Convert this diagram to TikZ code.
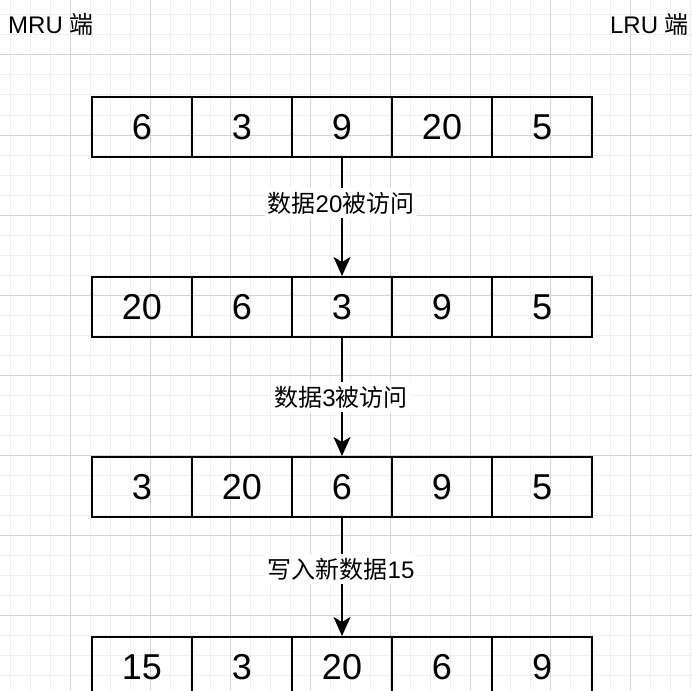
\documentclass[tikz,border=0pt]{standalone}
\usepackage{fontspec}
\setmainfont{Liberation Sans}
\newfontfamily\cjk{Noto Sans CJK SC}
\usetikzlibrary{arrows.meta}
\definecolor{gridminor}{HTML}{F0F0F0}
\definecolor{gridmajor}{HTML}{D4D4D4}
\tikzset{
  cell/.style={draw=black, line width=2pt, minimum width=100pt, minimum height=60pt,
    inner sep=0pt, anchor=north west, font=\fontsize{36}{40}\selectfont},
  flow/.style={draw=black, line width=2pt, -{Stealth[length=19pt,width=17pt,inset=5pt]}},
  lbl/.style={fill=white, inner xsep=3pt, inner ysep=0pt, minimum height=30pt,
    font=\fontsize{24}{28}\selectfont},
  endlbl/.style={inner sep=0pt, font=\fontsize{24}{28}\selectfont},
}
\begin{document}
\begin{tikzpicture}[x=1pt,y=-1pt]
\useasboundingbox (0,0) rectangle (692,690);
\fill[white] (0,0) rectangle (692,690);
% grid
\foreach \gx in {10,30,...,690} \draw[gridminor, line width=1pt] (\gx,0) -- (\gx,690);
\foreach \gy in {15,35,...,690} \draw[gridminor, line width=1pt] (0,\gy) -- (692,\gy);
\foreach \gx in {70,150,...,690} \draw[gridmajor, line width=1pt] (\gx,0) -- (\gx,690);
\foreach \gy in {55,135,...,690} \draw[gridmajor, line width=1pt] (0,\gy) -- (692,\gy);
% end labels
\node[endlbl, anchor=west] (mru) at (8,24) {MRU {\cjk 端}};
\node[endlbl, anchor=east] (lru) at (689,24) {LRU {\cjk 端}};
% rows
\foreach \v [count=\i] in {6,3,9,20,5}
  \node[cell] (a\i) at ({91+100*(\i-1)},96) {\v};
\foreach \v [count=\i] in {20,6,3,9,5}
  \node[cell] (b\i) at ({91+100*(\i-1)},276) {\v};
\foreach \v [count=\i] in {3,20,6,9,5}
  \node[cell] (c\i) at ({91+100*(\i-1)},456) {\v};
\foreach \v [count=\i] in {15,3,20,6,9}
  \node[cell] (d\i) at ({91+100*(\i-1)},636) {\v};
% connectors
\draw[flow] (a3.south) -- (b3.north);
\draw[flow] (b3.south) -- (c3.north);
\draw[flow] (c3.south) -- (d3.north);
% connector labels
\node[lbl] (l1) at (341,203) {{\cjk 数据}20{\cjk 被访问}};
\node[lbl] (l2) at (341,397) {{\cjk 数据}3{\cjk 被访问}};
\node[lbl] (l3) at (341,569) {{\cjk 写入新数据}15};
\end{tikzpicture}
\end{document}
